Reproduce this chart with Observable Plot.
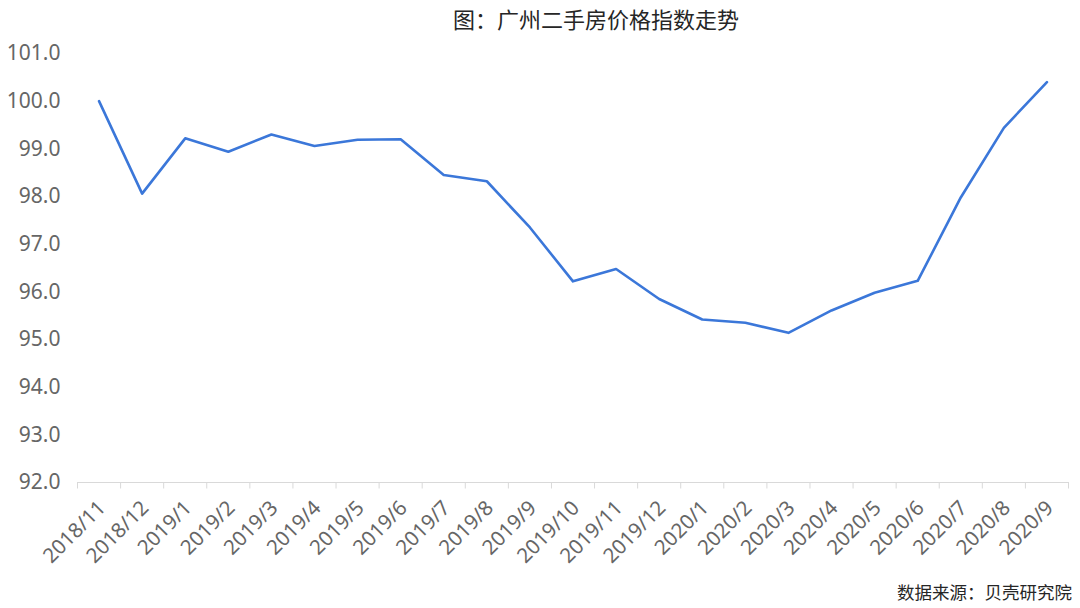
<!DOCTYPE html>
<html>
<head>
<meta charset="utf-8">
<script src="https://cdn.jsdelivr.net/npm/d3@7"></script>
<script src="https://cdn.jsdelivr.net/npm/@observablehq/plot@0.6"></script>
<style>
  html, body { margin: 0; padding: 0; background: #fff; }
  body { width: 1080px; height: 608px; overflow: hidden; font-family: "Noto Sans CJK SC", "Noto Sans", sans-serif; }
  #title { height: 36px; line-height: 36px; font-size: 22px; color: #262626; text-align: center; padding-left: 112px; box-sizing: border-box; }
  #caption { height: 32px; line-height: 32px; font-size: 17.5px; color: #262626; text-align: right; padding-right: 8px; }
  svg { display: block; }
</style>
</head>
<body>
<div id="title">图：广州二手房价格指数走势</div>
<div id="chart"></div>
<div id="caption">数据来源：贝壳研究院</div>
<script>
const categories = ["2018/11","2018/12","2019/1","2019/2","2019/3","2019/4","2019/5","2019/6","2019/7","2019/8","2019/9","2019/10","2019/11","2019/12","2020/1","2020/2","2020/3","2020/4","2020/5","2020/6","2020/7","2020/8","2020/9"];
const values = [100.00, 98.06, 99.22, 98.94, 99.30, 99.06, 99.19, 99.20, 98.45, 98.32, 97.35, 96.22, 96.48, 95.85, 95.42, 95.35, 95.14, 95.61, 95.98, 96.23, 97.98, 99.44, 100.40];
const yTicks = [92, 93, 94, 95, 96, 97, 98, 99, 100, 101];

const data = categories.map((c, i) => ({i, c, v: values[i]}));
const n = categories.length;
const bounds = d3.range(n + 1).map(k => k - 0.5);

const chart = Plot.plot({
  width: 1080,
  height: 540,
  marginTop: 17,
  marginBottom: 94,
  marginLeft: 77,
  marginRight: 12,
  style: {fontFamily: "'Noto Sans', 'Noto Sans CJK SC', sans-serif", color: "#666", background: "#fff"},
  x: {type: "linear", domain: [-0.5, n - 0.5]},
  y: {domain: [92, 101]},
  marks: [
    Plot.ruleY([92], {stroke: "#d9d9d9", strokeWidth: 1.2}),
    Plot.axisY({ticks: yTicks, tickSize: 0, tickPadding: 17, tickFormat: d => d.toFixed(1), fontSize: 21, fill: "#666", label: null}),
    Plot.axisX({ticks: bounds, tickSize: 6.5, stroke: "#d9d9d9", tickFormat: () => "", label: null}),
    Plot.axisX({ticks: d3.range(n), tickSize: 0, tickPadding: 22, tickRotate: -45, tickFormat: i => categories[i], fontSize: 20.5, fill: "#666", label: null, dx: 3}),
    Plot.line(data, {x: "i", y: "v", stroke: "#3b77d9", strokeWidth: 2.6, strokeLinejoin: "round"})
  ]
});
document.getElementById("chart").appendChild(chart);
</script>
</body>
</html>
